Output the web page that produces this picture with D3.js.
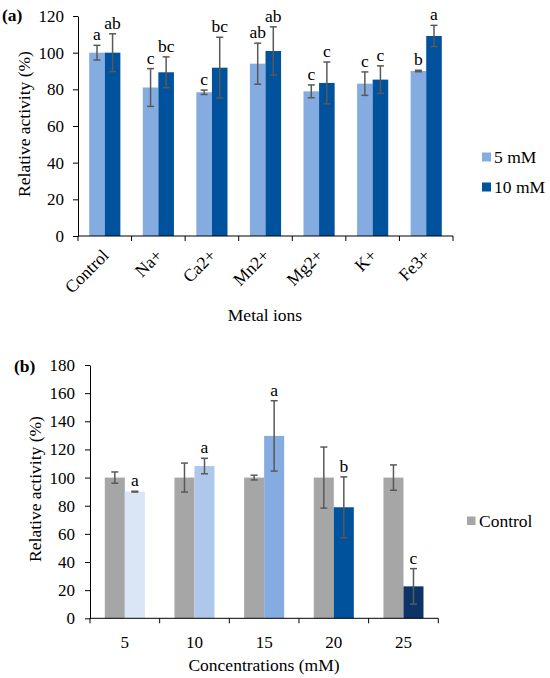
<!DOCTYPE html>
<html>
<head>
<meta charset="utf-8">
<script src="https://cdn.jsdelivr.net/npm/d3@7"></script>
<style>
  html, body { margin: 0; padding: 0; background: #fff; }
  svg text { font-family: "Liberation Serif", "Times New Roman", "DejaVu Serif", serif !important; fill: #000; }
</style>
</head>
<body>
<svg id="chart" width="550" height="678"></svg>
<script>
// ---------- Panel (a) data ----------
const metalIons = ["Control", "Na+", "Ca2+", "Mn2+", "Mg2+", "K+", "Fe3+"];
const seriesA = ["5 mM", "10 mM"];
const a5mM = [100, 81, 78.4, 94, 78.9, 83.1, 90];
const a5mMErr = [4, 10.3, 1.2, 11.2, 3.5, 6.4, 0.4];
const a10mM = [100, 89.3, 91.8, 100.9, 83.5, 85.3, 109.1];
const a10mMErr = [10.3, 8.4, 16.6, 13.2, 11.4, 7.5, 5.8];
const a5mMLetters = ["a", "c", "c", "ab", "c", "c", "b"];
const a10mMLetters = ["ab", "bc", "bc", "ab", "c", "c", "a"];
const yTicksA = [0, 20, 40, 60, 80, 100, 120];

// ---------- Panel (b) data ----------
const concentrations = ["5", "10", "15", "20", "25"];
const seriesB = ["Control", "Treatment"];
const controlB = [100, 100, 100, 100, 100];
const controlBErr = [4, 10.3, 1.7, 21.7, 9];
const treatB = [90, 108.2, 129.6, 78.9, 22.7];
const treatBErr = [0.3, 5.5, 25, 21.6, 12.6];
const treatBLetters = ["a", "a", "a", "b", "c"];
const yTicksB = [0, 20, 40, 60, 80, 100, 120, 140, 160, 180];

// ---------- styles ----------
const colA = { "5 mM": "#84ACE0", "10 mM": "#00529C" };
const colCtrl = "#A6A6A6";
const colTreat = ["#DAE5F5", "#ADC8EB", "#84ACE0", "#00529C", "#0C3466"];
const errCol = "#595959";
const FONT = "Liberation Serif";
const FS = 17.5;
const FT = 17;

const svg = d3.select("#chart").attr("font-family", FONT);

function txt(g, s) {
  return g.append("text").attr("font-family", FONT).attr("font-size", s || FS).attr("fill", "#000");
}

function errorBar(g, cx, yTop, yBot) {
  const cap = 3.5;
  g.append("line").attr("x1", cx).attr("x2", cx).attr("y1", yTop).attr("y2", yBot)
    .attr("stroke", errCol).attr("stroke-width", 1.5);
  g.append("line").attr("x1", cx - cap).attr("x2", cx + cap).attr("y1", yTop).attr("y2", yTop)
    .attr("stroke", errCol).attr("stroke-width", 1.5);
  g.append("line").attr("x1", cx - cap).attr("x2", cx + cap).attr("y1", yBot).attr("y2", yBot)
    .attr("stroke", errCol).attr("stroke-width", 1.5);
}

function yAxis(g, y, ticks, x0, pad) {
  const ax = g.append("g").attr("transform", `translate(${x0},0)`)
    .call(d3.axisLeft(y).tickValues(ticks).tickSize(5).tickSizeOuter(0).tickPadding(pad));
  ax.attr("font-family", FONT).attr("font-size", FT);
  ax.select(".domain").attr("stroke", "#000");
  ax.selectAll(".tick line").attr("stroke", "#000");
  ax.selectAll("text").attr("font-size", FT).attr("font-family", FONT).attr("fill", "#000");
  return ax;
}

function xAxisBand(g, x, y0) {
  const r = x.range();
  g.append("line").attr("x1", r[0]).attr("x2", r[1]).attr("y1", y0).attr("y2", y0)
    .attr("stroke", "#000");
  const bounds = x.domain().map(d => x(d)).concat([r[1]]);
  g.selectAll(null).data(bounds).enter().append("line")
    .attr("x1", d => d).attr("x2", d => d).attr("y1", y0).attr("y2", y0 + 5)
    .attr("stroke", "#000");
}

// ================= Panel (a) =================
{
  const g = svg.append("g");
  const x = d3.scaleBand().domain(metalIons).range([78, 453]).paddingInner(0).paddingOuter(0);
  const xs = d3.scaleBand().domain(seriesA).range([0, x.bandwidth()]).paddingInner(0).paddingOuter(0.72);
  const y = d3.scaleLinear().domain([0, 120]).range([236, 16]);

  const rows = metalIons.map((c, i) => ({
    c,
    vals: [
      { s: "5 mM", v: a5mM[i], e: a5mMErr[i], l: a5mMLetters[i] },
      { s: "10 mM", v: a10mM[i], e: a10mMErr[i], l: a10mMLetters[i] }
    ]
  }));

  rows.forEach(r => {
    r.vals.forEach(d => {
      g.append("rect").attr("x", x(r.c) + xs(d.s)).attr("y", y(d.v)).attr("width", xs.bandwidth())
        .attr("height", y(0) - y(d.v)).attr("fill", colA[d.s]);
    });
  });
  rows.forEach(r => {
    r.vals.forEach(d => {
      const cx = x(r.c) + xs(d.s) + xs.bandwidth() / 2;
      errorBar(g, cx, y(d.v + d.e), y(d.v - d.e));
      txt(g).attr("x", cx).attr("y", y(d.v + d.e) - 5).attr("text-anchor", "middle").text(d.l);
    });
  });

  yAxis(g, y, yTicksA, 78, 9);
  xAxisBand(g, x, 236);

  metalIons.forEach(c => {
    const cx = x(c) + x.bandwidth() / 2;
    txt(g).attr("transform", `translate(${cx + 5},256.5) rotate(-45)`)
      .attr("text-anchor", "end").text(c);
  });

  txt(g).attr("x", 265).attr("y", 321).attr("text-anchor", "middle").text("Metal ions");
  txt(g).attr("transform", "translate(30,124) rotate(-90)")
    .attr("text-anchor", "middle").text("Relative activity (%)");
  txt(g).attr("x", 2).attr("y", 21).attr("font-weight", "bold").text("(a)");

  // legend
  seriesA.forEach((s, i) => {
    const cy = 157 + i * 30;
    g.append("rect").attr("x", 482).attr("y", cy - 4.5).attr("width", 9).attr("height", 9).attr("fill", colA[s]);
    txt(g).attr("x", 494).attr("y", cy + 6).text(s);
  });
}

// ================= Panel (b) =================
{
  const g = svg.append("g");
  const x = d3.scaleBand().domain(concentrations).range([90, 438.3]).paddingInner(0).paddingOuter(0);
  const xs = d3.scaleBand().domain(seriesB).range([0, x.bandwidth()]).paddingInner(0).paddingOuter(0.74);
  const y = d3.scaleLinear().domain([0, 180]).range([618.3, 365]);

  const rows = concentrations.map((c, i) => ({
    c,
    vals: [
      { s: "Control", v: controlB[i], e: controlBErr[i], l: null, col: colCtrl },
      { s: "Treatment", v: treatB[i], e: treatBErr[i], l: treatBLetters[i], col: colTreat[i] }
    ]
  }));

  rows.forEach(r => {
    r.vals.forEach(d => {
      g.append("rect").attr("x", x(r.c) + xs(d.s)).attr("y", y(d.v)).attr("width", xs.bandwidth())
        .attr("height", y(0) - y(d.v)).attr("fill", d.col);
    });
  });
  rows.forEach(r => {
    r.vals.forEach(d => {
      const cx = x(r.c) + xs(d.s) + xs.bandwidth() / 2;
      errorBar(g, cx, y(d.v + d.e), y(d.v - d.e));
      if (d.l) {
        txt(g).attr("x", cx).attr("y", y(d.v + d.e) - 5).attr("text-anchor", "middle").text(d.l);
      }
    });
  });

  yAxis(g, y, yTicksB, 90, 10);
  xAxisBand(g, x, 618.3);

  concentrations.forEach(c => {
    txt(g, FT).attr("x", x(c) + x.bandwidth() / 2).attr("y", 647.5)
      .attr("text-anchor", "middle").text(c);
  });

  txt(g).attr("x", 264).attr("y", 671).attr("text-anchor", "middle").text("Concentrations (mM)");
  txt(g).attr("transform", "translate(41,489) rotate(-90)")
    .attr("text-anchor", "middle").text("Relative activity (%)");
  txt(g).attr("x", 14).attr("y", 372).attr("font-weight", "bold").text("(b)");

  g.append("rect").attr("x", 467).attr("y", 516.5).attr("width", 8.5).attr("height", 8.5).attr("fill", colCtrl);
  txt(g).attr("x", 479).attr("y", 527).text("Control");
}
</script>
</body>
</html>
